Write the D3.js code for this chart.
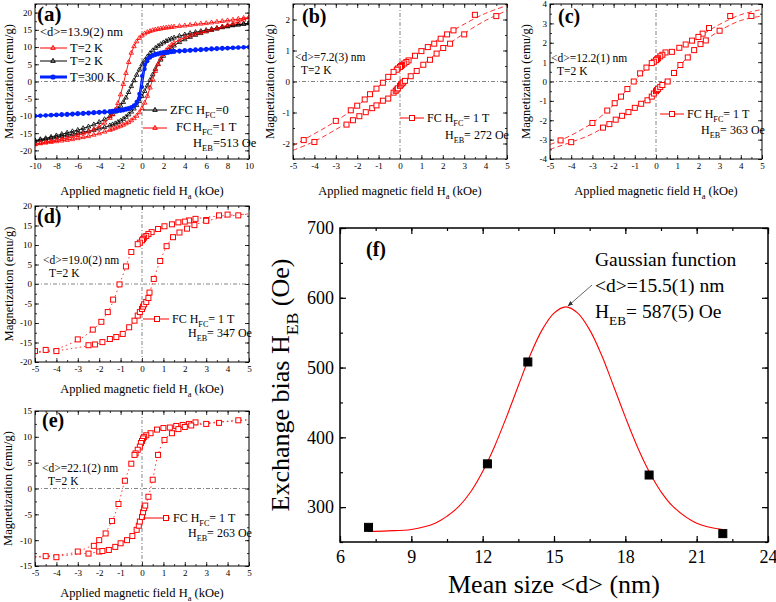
<!DOCTYPE html>
<html>
<head>
<meta charset="utf-8">
<script src="https://cdnjs.cloudflare.com/ajax/libs/d3/7.8.5/d3.min.js"></script>
<style>
body { margin: 0; background: #fff; }
text { font-family: "Liberation Serif", "Times New Roman", serif; fill: #000; }
</style>
</head>
<body>
<script>
// ---------- data: panel (a), shared field grid (kOe) and M (emu/g) per branch ----------
var aField = [-10,-9.5,-9,-8.5,-8,-7.5,-7,-6.5,-6,-5.5,-5,-4.5,-4,-3.5,-3,
  -2.75,-2.5,-2.25,-2,-1.75,-1.5,-1.25,-1,-0.75,-0.5,-0.25,0,0.25,0.5,0.75,1,1.25,1.5,1.75,2,2.25,2.5,2.75,
  3,3.5,4,4.5,5,5.5,6,6.5,7,7.5,8,8.5,9,9.5,10];
var aRedDesc = [-18.2,-17.9,-17.6,-17.3,-17.0,-16.7,-16.4,-16.0,-15.6,-15.1,-14.6,-13.9,-13.1,-12.0,-10.6,
  -9.6,-8.2,-6.3,-3.8,-0.8,2.4,5.6,8.3,10.2,11.6,12.6,13.3,13.9,14.3,14.6,14.85,15.05,15.2,15.35,15.5,15.6,15.7,15.8,
  15.9,16.05,16.2,16.4,16.6,16.75,16.9,17.1,17.3,17.5,17.7,17.9,18.15,18.4,18.6];
var aRedAsc = [-18.3,-18.0,-17.8,-17.6,-17.4,-17.2,-17.0,-16.8,-16.5,-16.2,-15.9,-15.5,-15.1,-14.6,-14.1,
  -13.8,-13.5,-13.2,-12.9,-12.6,-12.2,-11.8,-11.3,-10.7,-10.0,-9.0,-7.8,-6.2,-4.2,-1.8,0.6,3.0,5.0,6.7,8.0,9.0,9.9,10.6,
  11.2,12.1,12.8,13.3,13.8,14.2,14.6,15.0,15.4,15.9,16.3,16.8,17.3,17.9,18.6];
var aBlackDesc = [-17.2,-16.8,-16.5,-16.1,-15.7,-15.3,-14.9,-14.5,-14.1,-13.6,-13.1,-12.5,-11.8,-11.0,-10.1,
  -9.5,-8.8,-8.0,-7.1,-6.0,-4.7,-3.1,-1.4,0.3,1.9,3.4,4.9,6.1,7.2,8.2,9.0,9.7,10.3,10.8,11.3,11.7,12.1,12.4,
  12.7,13.2,13.6,14.0,14.3,14.6,14.9,15.2,15.5,15.8,16.0,16.3,16.5,16.7,16.9];
var aBlackAsc = [-17.2,-17.0,-16.8,-16.5,-16.2,-15.9,-15.6,-15.3,-15.0,-14.7,-14.4,-14.1,-13.7,-13.3,-12.8,
  -12.5,-12.2,-11.8,-11.4,-10.9,-10.3,-9.6,-8.8,-7.9,-6.9,-5.7,-4.3,-2.8,-1.2,0.4,2.0,3.6,5.0,6.3,7.4,8.3,9.1,9.8,
  10.4,11.4,12.2,12.9,13.5,14.0,14.5,14.9,15.3,15.7,16.0,16.3,16.5,16.7,16.9];
var aBlueDesc = [-10.0,-9.9,-9.8,-9.7,-9.6,-9.5,-9.4,-9.3,-9.2,-9.1,-9.0,-8.9,-8.8,-8.7,-8.6,
  -8.5,-8.4,-8.3,-8.2,-8.1,-7.9,-7.7,-7.4,-6.9,-5.9,-3.6,1.6,4.9,6.4,7.2,7.7,8.0,8.2,8.4,8.5,8.6,8.7,8.8,
  8.9,9.0,9.1,9.2,9.3,9.4,9.5,9.6,9.7,9.75,9.8,9.85,9.9,9.95,10.0];
var aBlueAsc = [-10.0,-9.95,-9.9,-9.85,-9.8,-9.75,-9.7,-9.6,-9.5,-9.4,-9.3,-9.2,-9.1,-9.0,-8.9,
  -8.8,-8.7,-8.6,-8.5,-8.4,-8.2,-8.0,-7.7,-7.2,-6.4,-4.9,-1.6,3.6,5.9,6.9,7.4,7.7,7.9,8.1,8.2,8.3,8.4,8.5,
  8.6,8.7,8.8,8.9,9.0,9.1,9.2,9.3,9.4,9.5,9.6,9.7,9.8,9.9,10.0];

// ---------- data: panels (b)-(e), [H (kOe), M (emu/g)] ----------
var bUp = [[4.5,2.11],[3.5,2.15],[2.5,1.65],[2.2,1.52],[1.9,1.38],[1.6,1.22],[1.3,1.11],[1.0,0.98],[0.7,0.83],
  [0.4,0.68],[0.3,0.63],[0.2,0.58],[0.1,0.53],[0.05,0.5],[0,0.47],[-0.1,0.42],[-0.15,0.38],[-0.3,0.31],
  [-0.55,0.15],[-0.8,-0.04],[-1.1,-0.23],[-1.4,-0.41],[-1.65,-0.58],[-2.0,-0.78],[-2.3,-0.93],[-3.0,-1.27],[-4.5,-1.89]];
var bLow = [[-4.0,-1.95],[-2.5,-1.39],[-2.2,-1.25],[-1.9,-1.12],[-1.6,-0.99],[-1.3,-0.86],[-1.1,-0.77],[-0.8,-0.62],
  [-0.55,-0.55],[-0.3,-0.36],[-0.2,-0.3],[-0.15,-0.26],[-0.1,-0.22],[0,-0.14],[0.05,-0.1],[0.1,-0.06],[0.15,-0.03],
  [0.23,0.02],[0.5,0.17],[0.78,0.34],[1.09,0.54],[1.4,0.7],[1.71,0.9],[2.02,1.08],[2.34,1.22],[3.0,1.52]];
var bFitUp = [[-5,-2.07],[-4.5,-1.88],[-3,-1.28],[-2,-0.79],[-1,-0.16],[-0.5,0.18],[0,0.47],[1,0.98],[2,1.45],[3,1.85],[4,2.2],[5,2.45]];
var bFitLow = [[-5,-2.22],[-4,-1.93],[-3,-1.55],[-2,-1.14],[-1,-0.72],[0,-0.14],[0.5,0.17],[1,0.49],[2,1.07],[3,1.55],[4,1.97],[5,2.29]];

var cUp = [[4.5,3.38],[3.5,3.38],[2.5,2.76],[2.2,2.47],[2.0,2.3],[1.7,2.11],[1.4,1.91],[1.1,1.74],[0.75,1.53],
  [0.45,1.5],[0.3,1.38],[0.2,1.3],[0.1,1.2],[0.05,1.15],[0,1.1],[-0.1,1.02],[-0.2,0.95],[-0.45,0.72],[-0.75,0.42],
  [-1.05,0.0],[-1.35,-0.39],[-1.65,-0.78],[-1.95,-1.12],[-2.3,-1.5],[-3.0,-2.14],[-4.5,-3.04]];
var cLow = [[-4.0,-3.13],[-2.5,-2.38],[-2.2,-2.2],[-1.9,-1.97],[-1.6,-1.77],[-1.3,-1.58],[-1.0,-1.36],[-0.7,-1.15],
  [-0.4,-0.97],[-0.2,-0.78],[-0.1,-0.62],[0,-0.5],[0.05,-0.44],[0.1,-0.38],[0.2,-0.28],[0.3,-0.18],[0.55,0.0],
  [0.85,0.44],[1.15,0.85],[1.5,1.24],[1.8,1.62],[2.1,1.93],[2.35,2.12],[3.0,2.62]];
var cFitUp = [[-5,-3.25],[-4.5,-3.04],[-3,-2.14],[-2,-1.2],[-1,0.05],[0,1.1],[1,1.68],[2,2.3],[3,2.95],[4,3.45],[5,3.72]];
var cFitLow = [[-5,-3.5],[-4,-3.13],[-3,-2.7],[-2,-2.03],[-1,-1.36],[0,-0.5],[0.5,-0.05],[1,0.65],[2,1.83],[3,2.62],[4,3.15],[5,3.38]];

var dUp = [[4.5,17.6],[4.0,17.8],[3.6,17.6],[3.0,16.4],[2.5,16.7],[2.2,16.3],[2.0,16.0],[1.7,15.8],[1.4,15.3],
  [1.05,14.8],[0.75,14.1],[0.45,13.3],[0.3,12.8],[0.2,12.3],[0.1,11.9],[0.05,11.5],[0,11.2],[-0.1,10.6],[-0.2,10.2],
  [-0.5,8.2],[-0.75,4.5],[-1.05,-0.1],[-1.35,-4.0],[-1.6,-7.2],[-1.9,-9.7],[-2.3,-11.7],[-3.0,-14.2],[-4.5,-16.9],[-5.0,-17.2]];
var dLow = [[-4.0,-17.2],[-2.5,-15.7],[-2.2,-15.5],[-1.85,-14.9],[-1.5,-14.1],[-1.2,-13.6],[-0.9,-12.8],[-0.6,-11.1],
  [-0.35,-9.4],[-0.2,-8.1],[-0.1,-7.2],[0,-6.4],[0.05,-5.8],[0.1,-5.2],[0.2,-4.6],[0.3,-3.6],[0.35,-2.2],[0.55,1.3],
  [0.85,5.9],[1.15,9.7],[1.45,12.0],[1.75,13.2],[2.1,14.2],[2.45,15.1],[3.0,16.2]];
var dFitUp = [[-5,-17.4],[-4,-16.6],[-3,-14.4],[-2.5,-12.6],[-2,-10.2],[-1.5,-6.2],[-1.05,-0.1],[-0.75,4.5],[-0.5,8.0],[0,11.2],[1,14.6],[2,16.2],[3,17.1],[4,17.6],[5,17.9]];
var dFitLow = [[-5,-17.6],[-4,-17.1],[-3,-16.3],[-2,-15.2],[-1,-13.2],[0,-6.4],[0.35,-2.2],[0.55,1.3],[0.85,5.9],[1.15,9.7],[1.5,12.3],[2,14.2],[3,16.1],[4,17.3],[5,18.0]];

var eUp = [[4.5,13.2],[3.6,12.7],[2.5,12.8],[2.2,12.5],[1.9,12.3],[1.6,12.1],[1.3,11.8],[1.0,11.7],[0.7,11.4],
  [0.4,10.7],[0.2,10.3],[0.1,10.0],[0.05,9.7],[0,9.2],[-0.05,8.8],[-0.1,8.1],[-0.2,7.5],[-0.3,6.8],[-0.35,6.5],
  [-0.5,4.8],[-0.8,1.5],[-1.1,-3.0],[-1.4,-6.3],[-1.7,-8.7],[-2.0,-10.0],[-2.25,-11.1],[-3.0,-12.2],[-4.5,-13.1]];
var eLow = [[-4.0,-13.3],[-2.5,-12.6],[-2.0,-12.2],[-1.85,-12.1],[-1.55,-11.9],[-1.25,-11.3],[-1.0,-10.6],[-0.7,-10.0],
  [-0.45,-9.2],[-0.25,-8.0],[-0.15,-7.2],[-0.1,-6.4],[0,-5.5],[0.05,-4.6],[0.1,-3.8],[0.15,-3.3],[0.3,-1.6],[0.5,1.7],
  [0.75,6.5],[1.05,9.4],[1.4,10.7],[1.7,11.5],[2.0,11.9],[2.3,12.2],[3.0,12.5]];
var eFitUp = [[-5,-13.2],[-4,-12.9],[-3,-12.2],[-2,-10.0],[-1.4,-6.3],[-1.1,-3.0],[-0.8,1.5],[-0.5,4.8],[0,9.2],[0.5,10.9],[1,11.6],[2,12.3],[3,12.7],[4,13.0],[5,13.3]];
var eFitLow = [[-5,-13.3],[-4,-13.1],[-3,-12.7],[-2,-12.2],[-1,-10.6],[-0.25,-8.0],[0,-5.5],[0.3,-1.6],[0.5,1.7],[0.75,6.5],[1.05,9.4],[1.5,11.0],[2,11.9],[3,12.5],[4,13.0],[5,13.3]];

// ---------- data: panel (f) ----------
var sizeNm = [7.2, 12.2, 13.9, 19.0, 22.1];
var hebOe = [271, 362, 508, 346, 262];
var gaussX = [7.2,8,9,10,10.5,11,11.5,12,12.5,13,13.5,14,14.5,15,15.5,16,16.5,17,17.5,18,18.5,19,19.5,20,21,22.1];
var gaussY = [265,266,268,277,287,301,322,351,387,429,474,518,554,578,587,578,554,518,474,429,387,351,322,301,277,268];

var RED = "#ff0000";
var svg = d3.select("body").append("svg").attr("width", 776).attr("height", 602);
var clipN = 0;

function rich(parent, x, y, parts, size, anchor, rotate, bold) {
  var t = parent.append("text").attr("font-size", size).attr("text-anchor", anchor || "start");
  if (bold) t.attr("font-weight", "bold");
  if (rotate) t.attr("transform", "translate(" + x + "," + y + ") rotate(-90)");
  else t.attr("x", x).attr("y", y);
  var shift = 0;
  parts.forEach(function(p) {
    var sub = Array.isArray(p);
    var s = t.append("tspan").text(sub ? p[0] : p);
    var want = sub ? size * 0.35 : 0;
    if (want !== shift) s.attr("dy", want - shift);
    if (sub) s.attr("font-size", size * 0.68);
    shift = want;
  });
  return t;
}

function panel(box, xDom, yDom, xStep, yStep, o) {
  var x = d3.scaleLinear().domain(xDom).range([box.l, box.r]);
  var y = d3.scaleLinear().domain(yDom).range([box.b, box.t]);
  var g = svg.append("g");
  var id = "clip" + (clipN++);
  svg.append("clipPath").attr("id", id).append("rect")
    .attr("x", box.l).attr("y", box.t).attr("width", box.r - box.l).attr("height", box.b - box.t);
  var e = 1e-9;
  var xMaj = d3.range(xDom[0], xDom[1] + e, xStep);
  var xMin = d3.range(xDom[0], xDom[1] + e, xStep / 2);
  var yMaj = d3.range(Math.ceil(yDom[0] / yStep - e) * yStep, yDom[1] + e, yStep);
  var yMin = d3.range(Math.ceil(yDom[0] / (yStep / 2) - e) * yStep / 2, yDom[1] + e, yStep / 2);
  var fmt = function(d) { return String(Math.round(d * 100) / 100); };

  function put(axis, tx, ty) {
    var a = g.append("g").attr("transform", "translate(" + tx + "," + ty + ")").call(axis);
    a.select(".domain").remove();
    a.attr("font-family", "Liberation Serif").attr("font-size", o.font);
    a.selectAll("line").attr("stroke", "#000").attr("stroke-width", o.tickW);
    a.selectAll("text").attr("fill", o.labelColor);
  }
  put(d3.axisBottom(x).tickValues(xMaj).tickSize(-o.major).tickPadding(o.padX).tickFormat(fmt), 0, box.b);
  put(d3.axisBottom(x).tickValues(xMin).tickSize(-o.minor).tickFormat(""), 0, box.b);
  put(d3.axisTop(x).tickValues(xMaj).tickSize(-o.major).tickFormat(""), 0, box.t);
  put(d3.axisTop(x).tickValues(xMin).tickSize(-o.minor).tickFormat(""), 0, box.t);
  put(d3.axisLeft(y).tickValues(yMaj).tickSize(-o.major).tickPadding(o.padY).tickFormat(fmt), box.l, 0);
  put(d3.axisLeft(y).tickValues(yMin).tickSize(-o.minor).tickFormat(""), box.l, 0);
  put(d3.axisRight(y).tickValues(yMaj).tickSize(-o.major).tickFormat(""), box.r, 0);
  put(d3.axisRight(y).tickValues(yMin).tickSize(-o.minor).tickFormat(""), box.r, 0);

  var plot = g.append("g").attr("clip-path", "url(#" + id + ")");
  if (o.zero) {
    plot.append("line").attr("x1", x(0)).attr("x2", x(0)).attr("y1", box.t).attr("y2", box.b)
      .attr("stroke", "#666").attr("stroke-width", 0.8).attr("stroke-dasharray", "4,2,1,2");
    plot.append("line").attr("x1", box.l).attr("x2", box.r).attr("y1", y(0)).attr("y2", y(0))
      .attr("stroke", "#666").attr("stroke-width", 0.8).attr("stroke-dasharray", "4,2,1,2");
  }
  g.append("rect").attr("x", box.l).attr("y", box.t).attr("width", box.r - box.l).attr("height", box.b - box.t)
    .attr("fill", "none").attr("stroke", "#000").attr("stroke-width", o.frameW);
  return { g: g, plot: plot, x: x, y: y, box: box };
}

function line(p, pts, color, width, dash, curve) {
  var ln = d3.line().x(function(d) { return p.x(d[0]); }).y(function(d) { return p.y(d[1]); })
    .curve(curve || d3.curveLinear);
  var path = p.plot.append("path").datum(pts).attr("d", ln).attr("fill", "none")
    .attr("stroke", color).attr("stroke-width", width);
  if (dash) path.attr("stroke-dasharray", dash);
  return path;
}

function squares(p, pts, color, s, fill) {
  p.plot.selectAll(null).data(pts).enter().append("rect")
    .attr("x", function(d) { return p.x(d[0]) - s / 2; })
    .attr("y", function(d) { return p.y(d[1]) - s / 2; })
    .attr("width", s).attr("height", s)
    .attr("fill", fill || "#fff").attr("stroke", color).attr("stroke-width", 1);
}

function tris(p, pts, color) {
  var sym = d3.symbol().type(d3.symbolTriangle).size(9);
  p.plot.selectAll(null).data(pts).enter().append("path").attr("d", sym)
    .attr("transform", function(d) { return "translate(" + p.x(d[0]) + "," + p.y(d[1]) + ")"; })
    .attr("fill", "none").attr("stroke", color).attr("stroke-width", 0.8);
}

function dots(p, pts, color, r) {
  p.plot.selectAll(null).data(pts).enter().append("circle")
    .attr("cx", function(d) { return p.x(d[0]); }).attr("cy", function(d) { return p.y(d[1]); })
    .attr("r", r).attr("fill", color);
}

function zip(xs, ys) { return xs.map(function(v, i) { return [v, ys[i]]; }); }

var small = { major: 4, minor: 2, font: 9, padX: 4, padY: 3, tickW: 0.8, frameW: 1, labelColor: "#333", zero: true };

function axisTitles(box, titleY, yTitleX) {
  rich(svg, (box.l + box.r) / 2, titleY, ["Applied magnetic field H", ["a"], " (kOe)"], 12.5, "middle");
  rich(svg, yTitleX, (box.t + box.b) / 2, ["Magnetization (emu/g)"], 12.5, "middle", true);
}

// ---------- panel (a) ----------
var pa = panel({ l: 35, r: 249, t: 4, b: 159 }, [-10, 10], [-22.5, 22.5], 2, 5, small);
[[aBlackDesc, "#000"], [aBlackAsc, "#000"], [aRedDesc, RED], [aRedAsc, RED]].forEach(function(s) {
  var pts = zip(aField, s[0]);
  line(pa, pts, s[1], 0.9);
  tris(pa, pts, s[1]);
});
[aBlueDesc, aBlueAsc].forEach(function(s) {
  var pts = zip(aField, s);
  line(pa, pts, "#0022ff", 1.4);
  dots(pa, pts, "#0022ff", 2.1);
});
axisTitles(pa.box, 195, 13);
rich(svg, 37, 21, ["(a)"], 21, "start", false, true);
rich(svg, 40, 36, ["<d>=13.9(2) nm"], 12.5);
[[48, RED, "T=2 K", 1], [61, "#000", "T=2 K", 1], [77, "#0022ff", "T=300 K", 3]].forEach(function(l) {
  svg.append("line").attr("x1", 40).attr("x2", 67).attr("y1", l[0]).attr("y2", l[0])
    .attr("stroke", l[1]).attr("stroke-width", l[3]);
  if (l[3] > 1) svg.append("circle").attr("cx", 53).attr("cy", l[0]).attr("r", 2.6).attr("fill", l[1]);
  else svg.append("path").attr("d", d3.symbol().type(d3.symbolTriangle).size(9)())
    .attr("transform", "translate(53," + l[0] + ")").attr("fill", "none").attr("stroke", l[1]);
  rich(svg, 70, l[0] + 4, [l[2]], 12.5);
});
[[110, "#000"], [128, RED]].forEach(function(l) {
  svg.append("line").attr("x1", 143).attr("x2", 167).attr("y1", l[0]).attr("y2", l[0]).attr("stroke", l[1]);
  svg.append("path").attr("d", d3.symbol().type(d3.symbolTriangle).size(9)())
    .attr("transform", "translate(155," + l[0] + ")").attr("fill", "none").attr("stroke", l[1]);
});
rich(svg, 170, 114, ["ZFC H", ["FC"], "=0"], 12.5);
rich(svg, 176, 131, ["FC"], 12.5);
rich(svg, 193, 131, ["H", ["FC"], "=1 T"], 12.5);
rich(svg, 193, 147, ["H", ["EB"], "=513 Oe"], 12.5);

// ---------- panels (b)-(e) ----------
function loopPanel(box, yDom, yStep, up, low, fitUp, fitLow, dash, lab, tag, sizeTxt, leg, hebTxt, titleY, yTitleX) {
  var p = panel(box, [-5, 5], yDom, 1, yStep, small);
  line(p, fitUp, RED, 0.8, dash, d3.curveCatmullRom);
  line(p, fitLow, RED, 0.8, dash, d3.curveCatmullRom);
  squares(p, up, RED, 5);
  squares(p, low, RED, 5);
  axisTitles(box, titleY, yTitleX);
  rich(svg, lab[0], lab[1], [tag], 20, "start", false, true);
  rich(svg, sizeTxt[0], sizeTxt[1], ["<d>=" + sizeTxt[2] + " nm"], 11.5);
  rich(svg, sizeTxt[0] + 6, sizeTxt[1] + 13, ["T=2 K"], 11.5);
  svg.append("line").attr("x1", leg[0]).attr("x2", leg[1]).attr("y1", leg[2]).attr("y2", leg[2]).attr("stroke", RED);
  svg.append("rect").attr("x", leg[3] - 2.5).attr("y", leg[2] - 2.5).attr("width", 5).attr("height", 5)
    .attr("fill", "#fff").attr("stroke", RED);
  rich(svg, leg[1] + 3, leg[2] + 4, ["FC H", ["FC"], "= 1 T"], 12);
  rich(svg, hebTxt[0], hebTxt[1], ["H", ["EB"], "= " + hebTxt[2] + " Oe"], 12);
  return p;
}

loopPanel({ l: 293, r: 507, t: 4, b: 159 }, [-2.5, 2.5], 1, bUp, bLow, bFitUp, bFitLow, "5,3",
  [302, 23], "(b)", [295, 61, "7.2(3)"], [400, 424, 118, 412], [445, 139, "272"], 195, 274);
loopPanel({ l: 550, r: 762, t: 4, b: 159 }, [-4, 4], 1, cUp, cLow, cFitUp, cFitLow, "5,3",
  [558, 23], "(c)", [551, 62, "12.2(1)"], [660, 684, 114, 672], [701, 134, "363"], 195, 530);
loopPanel({ l: 35, r: 249, t: 206, b: 362 }, [-20, 20], 5, dUp, dLow, dFitUp, dFitLow, "1.5,3",
  [37, 223], "(d)", [43, 264, "19.0(2)"], [143, 169, 319, 157], [188, 337, "347"], 393, 13);
loopPanel({ l: 35, r: 249, t: 411, b: 566 }, [-15, 15], 5, eUp, eLow, eFitUp, eFitLow, "1.5,3",
  [42, 427], "(e)", [42, 472, "22.1(2)"], [143, 170, 518, 166], [188, 537, "263"], 597, 12);

// ---------- panel (f) ----------
var pf = panel({ l: 340, r: 768, t: 228, b: 542 }, [6, 24], [250, 700], 3, 100,
  { major: 6, minor: 3, font: 18, padX: 8, padY: 6, tickW: 1.2, frameW: 1.5, labelColor: "#000", zero: false });
line(pf, zip(gaussX, gaussY), RED, 1.1, null, d3.curveCatmullRom);
squares(pf, zip(sizeNm, hebOe), "#000", 8, "#000");
rich(svg, 554, 593, ["Mean size <d> (nm)"], 26, "middle");
rich(svg, 289, 385, ["Exchange bias H", ["EB"], " (Oe)"], 26, "middle", true);
rich(svg, 366, 256, ["(f)"], 20, "start", false, true);
rich(svg, 595, 266, ["Gaussian function"], 19.5);
rich(svg, 595, 292, ["<d>=15.5(1) nm"], 19.5);
rich(svg, 595, 318, ["H", ["EB"], "= 587(5) Oe"], 19.5);
svg.append("defs").append("marker").attr("id", "arr").attr("viewBox", "0 0 10 10")
  .attr("refX", 9).attr("refY", 5).attr("markerWidth", 7).attr("markerHeight", 7).attr("orient", "auto")
  .append("path").attr("d", "M0,1L10,5L0,9Z").attr("fill", "#333");
svg.append("line").attr("x1", 592).attr("y1", 285).attr("x2", 568).attr("y2", 306)
  .attr("stroke", "#444").attr("stroke-width", 0.8).attr("marker-end", "url(#arr)");
</script>
</body>
</html>
